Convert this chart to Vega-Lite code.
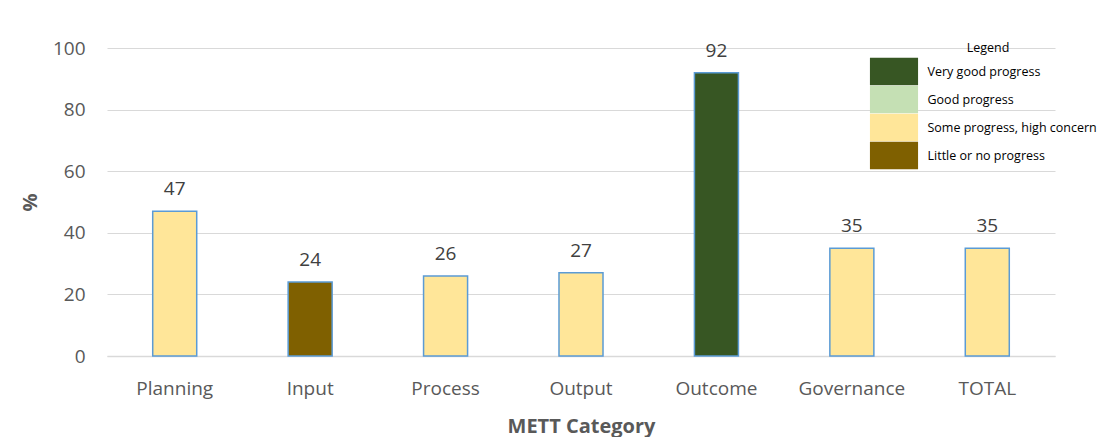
{
  "$schema": "https://vega.github.io/schema/vega-lite/v6.json",
  "width": 948,
  "height": 308,
  "autosize": {"type": "none"},
  "padding": {"left": 107, "top": 48, "right": 45, "bottom": 81},
  "background": "white",
  "config": {"view": {"stroke": null}, "font": "Open Sans"},
  "data": {"values": [
    {"category": "Planning", "value": 47, "status": "Some progress, high concern"},
    {"category": "Input", "value": 24, "status": "Little or no progress"},
    {"category": "Process", "value": 26, "status": "Some progress, high concern"},
    {"category": "Output", "value": 27, "status": "Some progress, high concern"},
    {"category": "Outcome", "value": 92, "status": "Very good progress"},
    {"category": "Governance", "value": 35, "status": "Some progress, high concern"},
    {"category": "TOTAL", "value": 35, "status": "Some progress, high concern"}
  ]},
  "encoding": {
    "x": {"field": "category", "type": "nominal", "sort": null,
      "scale": {"paddingInner": 0.675, "paddingOuter": 0.3375},
      "axis": {"title": "METT Category", "labelAngle": 0, "labelFontSize": 19, "labelColor": "#595959", "labelPadding": 23, "ticks": false, "domainColor": "#d9d9d9", "domainWidth": 1.5, "titleFontSize": 20, "titleFontWeight": "bold", "titleColor": "#595959", "titlePadding": 18}},
    "y": {"field": "value", "type": "quantitative",
      "scale": {"domain": [0, 100], "nice": false},
      "axis": {"title": "%", "values": [0, 20, 40, 60, 80, 100], "labelFontSize": 19, "labelColor": "#595959", "labelPadding": 22, "ticks": false, "domain": false, "gridColor": "#d9d9d9", "gridWidth": 1.2, "titleFontSize": 20, "titleFontWeight": "bold", "titleColor": "#595959", "titlePadding": 12}}
  },
  "layer": [
    {
      "mark": {"type": "bar", "stroke": "#5B9BD5", "strokeWidth": 1.5},
      "encoding": {
        "fill": {"field": "status", "type": "nominal",
          "scale": {"domain": ["Very good progress", "Good progress", "Some progress, high concern", "Little or no progress"], "range": ["#375623", "#C5E0B4", "#FFE699", "#7F6000"]},
          "legend": {"title": "Legend", "orient": "none", "legendX": 773, "legendY": -6, "titleAnchor": "middle", "titleAlign": "center", "titleFontSize": 12.5, "titleFontWeight": "normal", "titleColor": "black", "titlePadding": 3, "labelFontSize": 12.5, "labelColor": "black", "labelOffset": 19.5, "labelLimit": 0, "rowPadding": 0, "symbolType": "M-1.75,-1H1.75V1H-1.75Z", "symbolSize": 756, "symbolStrokeWidth": 0, "symbolOpacity": 1, "padding": 0,
            "encode": {"symbols": {"update": {"stroke": {"value": "transparent"}, "strokeWidth": {"value": 0}}}}}
        }
      }
    },
    {
      "mark": {"type": "text", "baseline": "bottom", "dy": -12, "fontSize": 19, "color": "#404040"},
      "encoding": {"text": {"field": "value", "type": "quantitative"}}
    }
  ]
}
